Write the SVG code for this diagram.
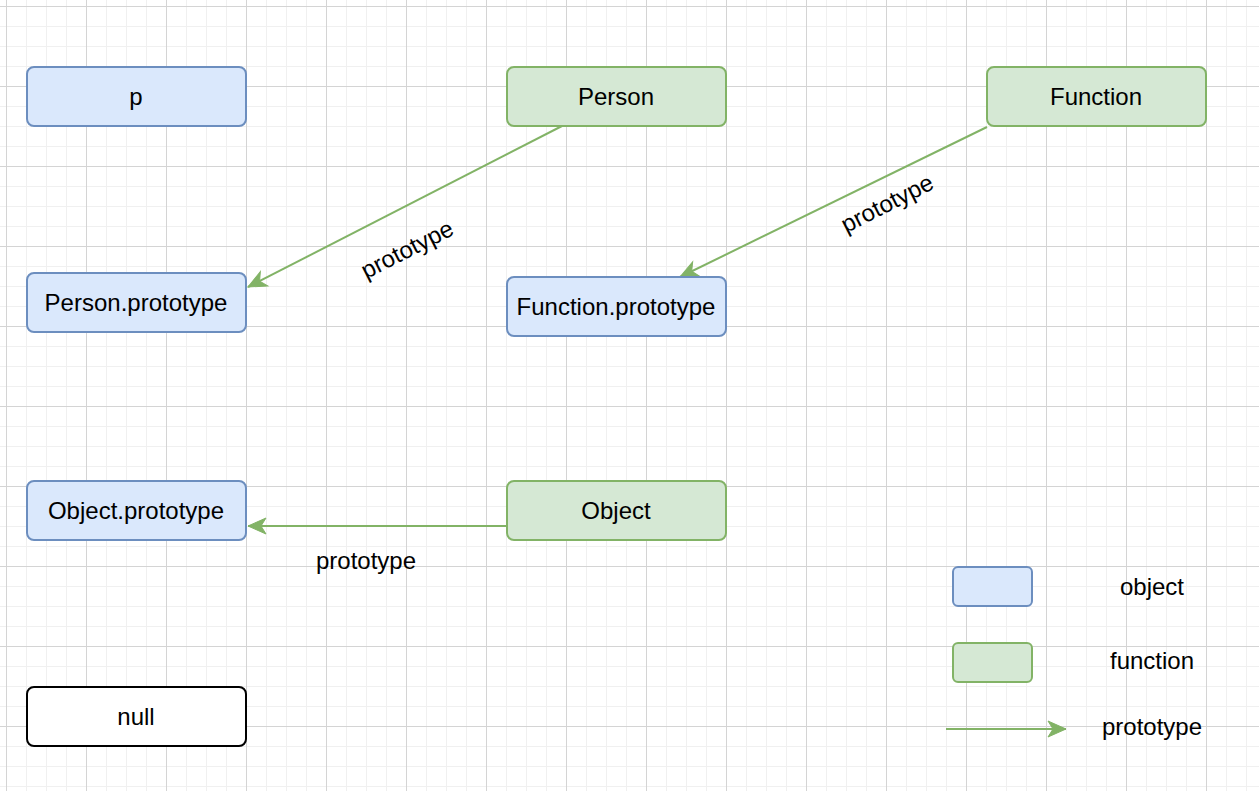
<svg xmlns="http://www.w3.org/2000/svg" width="1259" height="791" viewBox="0 0 1259 791">
<style>
.t{font-family:"Liberation Sans",Arial,sans-serif;font-size:24px;fill:#000;text-anchor:middle;dominant-baseline:central}
.obj{fill:#dae8fc;stroke:#6c8ebf;stroke-width:2}
.fn{fill:#d5e8d4;stroke:#82b366;stroke-width:2}
.nul{fill:#ffffff;stroke:#000000;stroke-width:2}
.e{stroke:#82b366;stroke-width:2;fill:none;marker-end:url(#arr)}
</style>
<defs>
<pattern id="minor" x="6" y="6" width="20" height="20" patternUnits="userSpaceOnUse">
<path d="M0.5 0V20M0 0.5H20" stroke="#f0f0f0" stroke-width="1" fill="none"/>
</pattern>
<pattern id="major" x="6" y="6" width="80" height="80" patternUnits="userSpaceOnUse">
<path d="M0.5 0V80M0 0.5H80" stroke="#d4d4d4" stroke-width="1" fill="none"/>
</pattern>
<marker id="arr" markerUnits="userSpaceOnUse" markerWidth="22" markerHeight="18" refX="18" refY="8" orient="auto" overflow="visible">
<path d="M0 0L18 8L0 16L5 8Z" fill="#82b366" stroke="#82b366" stroke-width="1"/>
</marker>
</defs>
<rect width="1259" height="791" fill="#ffffff"/>
<rect width="1259" height="791" fill="url(#minor)"/>
<rect width="1259" height="791" fill="url(#major)"/>
<g id="connectors">
<line class="e" x1="562" y1="126" x2="248" y2="287"/>
<line class="e" x1="987" y1="127" x2="680" y2="277"/>
<line class="e" x1="506" y1="526" x2="248" y2="526"/>
<text class="t" transform="translate(407,249) rotate(-27)">prototype</text>
<text class="t" transform="translate(887,203) rotate(-27)">prototype</text>
<text class="t" x="366" y="560">prototype</text>
</g>
<g id="p"><rect class="obj" x="27" y="67" width="219" height="59" rx="7"/><text class="t" x="136" y="96">p</text></g>
<g id="Person"><rect class="fn" x="507" y="67" width="219" height="59" rx="7"/><text class="t" x="616" y="96">Person</text></g>
<g id="Function"><rect class="fn" x="987" y="67" width="219" height="59" rx="7"/><text class="t" x="1096" y="96">Function</text></g>
<g id="PersonPrototype"><rect class="obj" x="27" y="273" width="219" height="59" rx="7"/><text class="t" x="136" y="302">Person.prototype</text></g>
<g id="FunctionPrototype"><rect class="obj" x="507" y="277" width="219" height="59" rx="7"/><text class="t" x="616" y="306">Function.prototype</text></g>
<g id="ObjectPrototype"><rect class="obj" x="27" y="481" width="219" height="59" rx="7"/><text class="t" x="136" y="510">Object.prototype</text></g>
<g id="Object"><rect class="fn" x="507" y="481" width="219" height="59" rx="7"/><text class="t" x="616" y="510">Object</text></g>
<g id="null"><rect class="nul" x="27" y="687" width="219" height="59" rx="7"/><text class="t" x="136" y="716">null</text></g>
<g id="legend">
<rect class="obj" x="953" y="567" width="79" height="39" rx="5"/>
<text class="t" x="1152" y="586">object</text>
<rect class="fn" x="953" y="643" width="79" height="39" rx="5"/>
<text class="t" x="1152" y="660">function</text>
<line class="e" x1="946" y1="729" x2="1066" y2="729"/>
<text class="t" x="1152" y="726">prototype</text>
</g>
</svg>
